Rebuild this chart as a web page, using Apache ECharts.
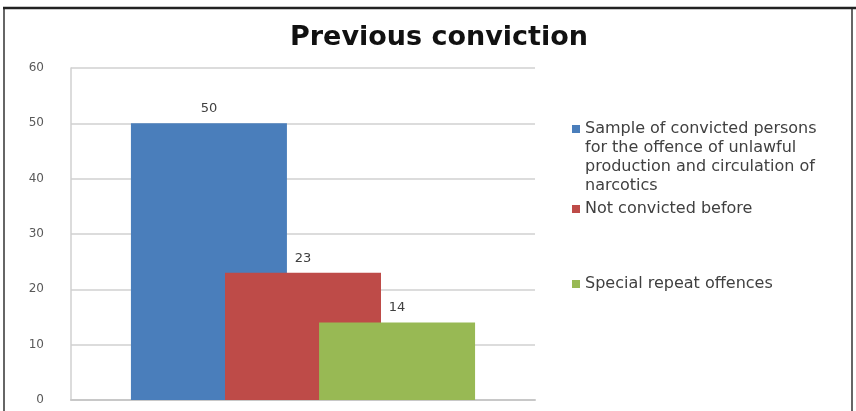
<!DOCTYPE html>
<html>
<head>
<meta charset="utf-8">
<script src="https://cdn.jsdelivr.net/npm/echarts@6/dist/echarts.min.js"></script>
<style>
  html, body { margin: 0; padding: 0; background: #fff; }
  #chart { width: 856px; height: 411px; }
</style>
</head>
<body>
<div id="chart"></div>
<script>
// Chart data
const title = 'Previous conviction';
const categories = [''];
const seriesNames = [
  'Sample of convicted persons\nfor the offence of unlawful\nproduction and circulation of\nnarcotics',
  'Not convicted before',
  'Special repeat offences'
];
const sampleValues = [50];
const notConvictedValues = [23];
const repeatValues = [14];
const yTicks = { min: 0, max: 60, interval: 10 };

const colors = ['#4a7ebb', '#be4b48', '#98b954'];
const valueSets = [sampleValues, notConvictedValues, repeatValues];
// vertical centre of each legend marker
const legendIconY = [129, 209, 284];
const lineH = 19;
const legendPad = 5;

const chart = echarts.init(document.getElementById('chart'));

const series = seriesNames.map((name, i) => ({
  name: name,
  type: 'bar',
  data: valueSets[i],
  barWidth: 156,
  barGap: '-39.7%',
  itemStyle: { color: colors[i] },
  label: {
    show: true,
    position: 'top',
    distance: 8,
    color: '#404040',
    fontFamily: 'DejaVu Sans',
    fontSize: 13
  }
}));

// One legend block per series; blank lines above a wrapped name keep
// its first line level with the marker.
const legends = seriesNames.map((name, i) => {
  const n = name.split('\n').length;
  const blanks = n - 1;
  const blockH = (n + blanks) * lineH;
  return {
    data: [name],
    orient: 'vertical',
    left: 567,
    top: legendIconY[i] - blockH / 2 - legendPad,
    padding: legendPad,
    itemWidth: 8,
    itemHeight: 8,
    icon: 'rect',
    formatter: label => '\n'.repeat(blanks) + label,
    textStyle: {
      fontFamily: 'DejaVu Sans',
      fontSize: 16,
      color: '#404040',
      lineHeight: lineH
    }
  };
});

chart.setOption({
  animation: false,
  title: {
    text: title,
    left: 434,
    textAlign: 'center',
    top: 19,
    textStyle: {
      fontFamily: 'DejaVu Sans',
      fontWeight: 'bold',
      fontSize: 27,
      color: '#111'
    }
  },
  legend: legends,
  grid: { left: 71, right: 321, top: 68, bottom: 11 },
  xAxis: {
    type: 'category',
    data: categories,
    axisLine: { lineStyle: { color: '#c8c8c8', width: 2 } },
    axisTick: { show: false },
    axisLabel: { show: false }
  },
  yAxis: {
    type: 'value',
    min: yTicks.min,
    max: yTicks.max,
    interval: yTicks.interval,
    axisLine: { show: true, lineStyle: { color: '#d0d0d0', width: 1.5 } },
    axisTick: { show: false },
    splitLine: { lineStyle: { color: '#d0d0d0', width: 1.5 } },
    axisLabel: {
      margin: 27,
      color: '#595959',
      fontFamily: 'DejaVu Sans',
      fontSize: 12
    }
  },
  graphic: [
    {
      type: 'rect',
      shape: { x: 4, y: 8, width: 848, height: 420 },
      style: { fill: 'none', stroke: '#666', lineWidth: 2 },
      silent: true,
      z: 100
    },
    {
      type: 'line',
      shape: { x1: 3, y1: 8, x2: 856, y2: 8 },
      style: { stroke: '#222', lineWidth: 2.5 },
      silent: true,
      z: 101
    }
  ],
  series: series
});
</script>
</body>
</html>
